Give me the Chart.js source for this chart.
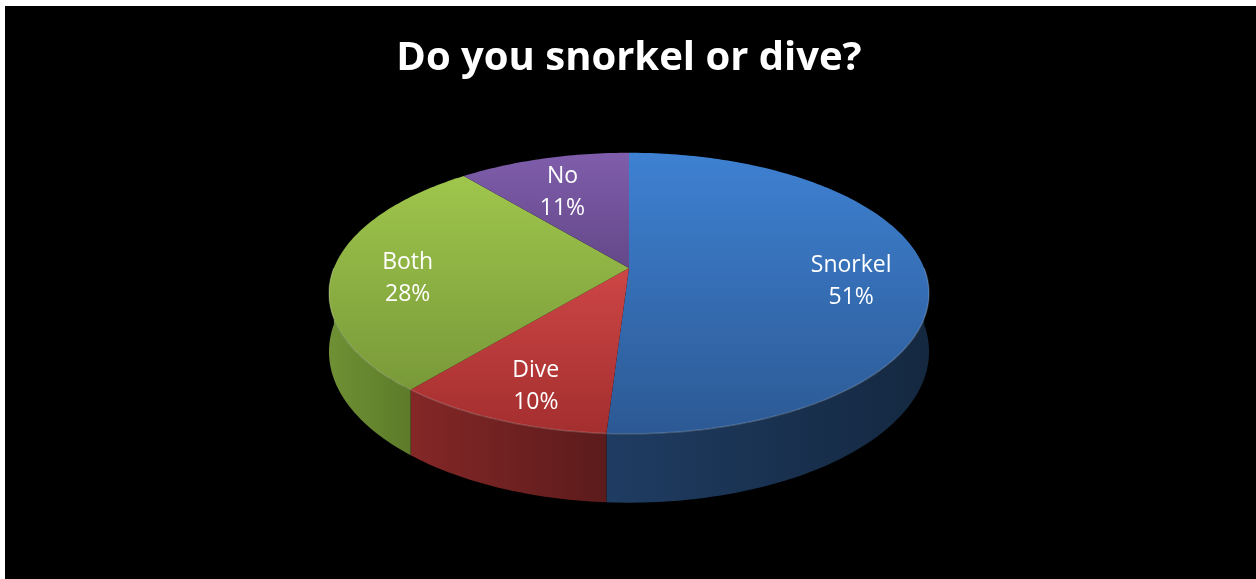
<!DOCTYPE html>
<html>
<head>
<meta charset="utf-8">
<script src="https://cdn.jsdelivr.net/npm/chart.js@4/dist/chart.umd.min.js"></script>
<style>
  body { margin: 0; background: #fff; }
  #wrap { position: absolute; left: 5px; top: 6px; width: 1251px; height: 573px; background: #000; }
</style>
</head>
<body>
<div id="wrap"><canvas id="pie3d" width="1251" height="573"></canvas></div>
<script>
var title = 'Do you snorkel or dive?';
var labels = ['Snorkel', 'Dive', 'Both', 'No'];
var values = [51, 10, 28, 11];

// top face: light -> dark (vertical), side wall: left -> right
var topColors = [['#3e81d2', '#2c5994'], ['#cd4646', '#a42e2e'], ['#9fc64c', '#799939'], ['#7f5dab', '#644889']];
var sideColors = [['#1f3c62', '#142840'], ['#842727', '#5c1b1b'], ['#6f9034', '#5d7b2a'], ['#4a3566', '#3a2a50']];

// tilt of the disc: horizontal stretch, perspective and thickness (in radius units)
var STRETCH_X = 2.17;
var PERSP = 0.18;
var DEPTH = 0.415;

function project(arc, a, r, z) {
  var u = r * Math.cos(a), w = r * Math.sin(a);
  var s = 1 / (1 - PERSP * w);
  var R = arc.outerRadius;
  return { x: arc.x + R * STRETCH_X * u * s, y: arc.y + R * (w + DEPTH * z) * s };
}

function samples(lo, hi) {
  var n = Math.max(2, Math.ceil((hi - lo) / (Math.PI / 180)));
  var out = [];
  for (var i = 0; i <= n; i++) out.push(lo + (hi - lo) * i / n);
  return out;
}

function bounds(pts) {
  var b = { x0: Infinity, x1: -Infinity, y0: Infinity, y1: -Infinity };
  pts.forEach(function (p) {
    b.x0 = Math.min(b.x0, p.x); b.x1 = Math.max(b.x1, p.x);
    b.y0 = Math.min(b.y0, p.y); b.y1 = Math.max(b.y1, p.y);
  });
  return b;
}

function fillPath(ctx, pts, fill) {
  ctx.beginPath();
  ctx.moveTo(pts[0].x, pts[0].y);
  for (var i = 1; i < pts.length; i++) ctx.lineTo(pts[i].x, pts[i].y);
  ctx.closePath();
  ctx.fillStyle = fill;
  ctx.fill();
}

var pie3dPlugin = {
  id: 'pie3d',
  beforeDatasetsDraw: function (chart) {
    var ctx = chart.ctx;
    var arcs = chart.getDatasetMeta(0).data;
    ctx.save();

    // outer wall, front half only
    arcs.forEach(function (arc, i) {
      var lo = Math.max(arc.startAngle, 0), hi = Math.min(arc.endAngle, Math.PI);
      if (hi <= lo) return;
      var angs = samples(lo, hi);
      var pts = angs.map(function (a) { return project(arc, a, 1, 0); });
      angs.slice().reverse().forEach(function (a) { pts.push(project(arc, a, 1, 1)); });
      var b = bounds(pts);
      var g = ctx.createLinearGradient(b.x0, 0, b.x1, 0);
      g.addColorStop(0, sideColors[i][0]);
      g.addColorStop(1, sideColors[i][1]);
      fillPath(ctx, pts, g);
    });

    // top faces
    arcs.forEach(function (arc, i) {
      var pts = [project(arc, 0, 0, 0)];
      samples(arc.startAngle, arc.endAngle).forEach(function (a) { pts.push(project(arc, a, 1, 0)); });
      var b = bounds(pts);
      var g = ctx.createLinearGradient(0, b.y0, 0, b.y1);
      g.addColorStop(0, topColors[i][0]);
      g.addColorStop(1, topColors[i][1]);
      fillPath(ctx, pts, g);
    });

    // soft highlight along the front rim
    arcs.forEach(function (arc) {
      var lo = Math.max(arc.startAngle, 0), hi = Math.min(arc.endAngle, Math.PI);
      if (hi <= lo) return;
      ctx.beginPath();
      samples(lo, hi).forEach(function (a, k) {
        var p = project(arc, a, 1, 0);
        if (k === 0) ctx.moveTo(p.x, p.y); else ctx.lineTo(p.x, p.y);
      });
      ctx.strokeStyle = 'rgba(255,255,255,0.18)';
      ctx.lineWidth = 1.5;
      ctx.stroke();
    });

    ctx.restore();
    // the flat arcs are replaced by the drawing above
    return false;
  },
  afterDraw: function (chart) {
    var ctx = chart.ctx;
    var arcs = chart.getDatasetMeta(0).data;
    var total = values.reduce(function (s, v) { return s + v; }, 0);
    ctx.save();
    ctx.fillStyle = '#fff';
    ctx.font = '23px "Open Sans"';
    ctx.textAlign = 'center';
    ctx.textBaseline = 'middle';
    arcs.forEach(function (arc, i) {
      var mid = (arc.startAngle + arc.endAngle) / 2;
      var p = project(arc, mid, 0.75, 0);
      ctx.fillText(labels[i], p.x, p.y - 6);
      ctx.fillText(Math.round(values[i] / total * 100) + '%', p.x, p.y + 26);
    });
    ctx.restore();
  }
};

new Chart(document.getElementById('pie3d'), {
  type: 'pie',
  data: {
    labels: labels,
    datasets: [{
      data: values,
      radius: 136,
      borderWidth: 0,
      backgroundColor: topColors.map(function (c) { return c[0]; })
    }]
  },
  options: {
    responsive: false,
    animation: false,
    events: [],
    layout: { padding: { top: 0, left: 0, right: 3, bottom: 147 } },
    plugins: {
      legend: { display: false },
      tooltip: { enabled: false },
      title: {
        display: true,
        text: title,
        color: '#fff',
        font: { family: '"Open Sans"', size: 40, weight: 'bold' },
        padding: { top: 29, bottom: 21 }
      }
    }
  },
  plugins: [pie3dPlugin]
});
</script>
</body>
</html>
